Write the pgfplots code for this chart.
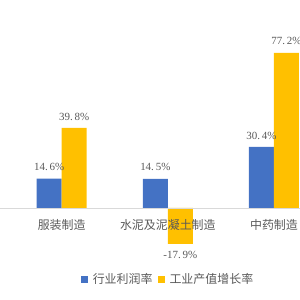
\documentclass[border=0pt]{standalone}
\usepackage{pgfplots}
\pgfplotsset{compat=1.18}
\usepackage{fontspec}
\setmainfont{Liberation Serif}
\newfontfamily\cjk{Noto Sans CJK SC}
\definecolor{cblue}{HTML}{4472C4}
\definecolor{cyellow}{HTML}{FFC000}
\definecolor{tgray}{HTML}{595959}
\definecolor{lgray}{HTML}{D9D9D9}
\begin{document}
\begin{tikzpicture}
\useasboundingbox (0,0) rectangle (300bp,300bp);
\clip (0,0) rectangle (300bp,300bp);
\begin{axis}[
  at={(0,0)}, anchor=south west,
  scale only axis, width=300bp, height=300bp,
  xmin=-0.581, xmax=2.245, ymin=-45.77, ymax=103.48,
  axis on top,
  axis x line=middle, axis y line=none,
  x axis line style={-, lgray, line width=0.8pt},
  xtick={0,1,2},
  xticklabels={服装制造,水泥及泥凝土制造,中药制造},
  major tick length=0pt,
  x tick label style={font=\cjk\fontsize{12}{12}\selectfont, text=tgray, yshift=-7.5bp},
  ytick=\empty,
  ybar=0pt, bar width=25bp,
  clip=false,
  nodes near coords={\pgfmathprintnumber[fixed,precision=1,fixed zerofill,dec sep={.\,}]{\pgfplotspointmeta}\%},
  /pgf/number format/assume math mode=true,
  every node near coord/.append style={font=\fontsize{11}{11}\selectfont, text=tgray, inner ysep=7.5bp},
  legend style={at={(0.56,0.068)}, anchor=center, draw=none, fill=none,
    legend columns=2, font=\cjk\fontsize{12}{12}\selectfont, text=tgray,
    /tikz/every odd column/.append style={column sep=3bp},
    /tikz/every even column/.append style={column sep=3bp}},
  legend image code/.code={\fill[#1] (0bp,-3.5bp) rectangle (7bp,3.5bp);},
]
\addplot[fill=cblue, draw=none] coordinates {(0,14.6) (1,14.5) (2,30.4)};
\addplot[fill=cyellow, draw=none] coordinates {(0,39.8) (1,-17.9) (2,77.2)};
\legend{行业利润率,工业产值增长率}
\end{axis}
\end{tikzpicture}
\end{document}
